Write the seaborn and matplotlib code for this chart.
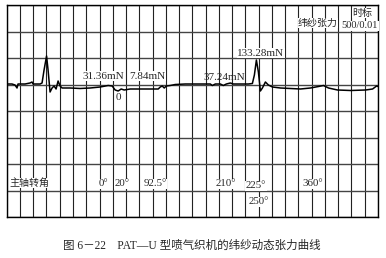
import numpy as np
import pandas as pd
import matplotlib
matplotlib.use("Agg")
import matplotlib.pyplot as plt
import seaborn as sns

# trace: time in chart divisions (0..28), tension in chart divisions (0..8)
trace_px_x = [7, 12, 15, 17, 18, 25, 30, 32, 33, 40, 42, 44, 46.5, 48, 50, 52, 54, 56, 58, 60,
              62, 70, 80, 90, 100, 108, 112, 115, 118, 121, 124, 130, 140, 150, 158, 160, 162,
              164, 166, 170, 175, 185, 200, 210, 212, 215, 220, 223, 226, 230, 233, 240, 248,
              252, 254, 256, 258, 260, 262, 265, 268, 272, 280, 290, 300, 310, 318, 323, 328,
              337, 350, 365, 372, 376, 379]
trace_px_y = [84, 84, 85, 88, 84, 84, 83, 82, 84, 84, 83, 70, 56, 70, 92, 88, 86, 89, 81, 86,
              88, 88, 88.5, 88, 87, 85.5, 86, 90, 91, 89, 90, 89, 89, 89, 89, 87, 86,
              88, 86, 85.5, 84.5, 84, 84, 84, 85.5, 84, 84, 85.5, 84, 83, 84, 84, 84,
              83.5, 75, 60, 72, 91, 88, 82, 85, 87, 88, 88.5, 89, 88, 86.5, 85.5, 88,
              90, 90.5, 90, 89, 86, 87]

X0, DX = 6.7, 13.24
Y0, DY = 217.0, 26.5
time_div = [(x - X0) / DX for x in trace_px_x]
tension_div = [(Y0 - y) / DY for y in trace_px_y]

tension_labels = ["31.36mN", "7.84mN", "0", "37.24mN", "133.28mN"]
angle_labels = ["0°", "20°", "92.5°", "210°", "225°", "250°", "360°"]

W, H = 386, 258
fig = plt.figure(figsize=(W / 100, H / 100), dpi=100)
sns.set_style("white")
plt.rcParams['font.family'] = ['Liberation Serif', 'Noto Sans CJK SC']

ax = fig.add_axes([X0 / W, 1 - Y0 / H, (378 - X0) / W, (Y0 - 5) / H])
df = pd.DataFrame({"t": time_div, "f": tension_div})
sns.lineplot(data=df, x="t", y="f", ax=ax, color="black", lw=1.1, sort=False)
ax.set_xlim(0, 28)
ax.set_ylim(0, 8)
ax.set_xticks(np.arange(0, 29, 1))
ax.set_yticks(np.arange(0, 9, 1))
ax.xaxis.grid(True, color="#222222", lw=0.8)
ax.yaxis.grid(True, color="#444444", lw=1.0)
ax.tick_params(length=0, labelbottom=False, labelleft=False)
ax.set_xlabel("")
ax.set_ylabel("")
for s in ax.spines.values():
    s.set_color("black")
    s.set_linewidth(1.0)

def ftext(px, py, s, size=8, **kw):
    fig.text(px / W, 1 - py / H, s, ha="center", va="center", fontsize=size,
             family=['Liberation Serif', 'Noto Sans CJK SC'], **kw)

# tension annotations
ftext(103, 76, tension_labels[0], bbox=dict(fc="white", ec="none", pad=0.3))
ftext(147, 76, tension_labels[1], bbox=dict(fc="white", ec="none", pad=0.3))
ftext(118, 98, tension_labels[2], bbox=dict(fc="white", ec="none", pad=0.2))
ftext(224, 77, tension_labels[3])
ftext(261, 53, tension_labels[4], bbox=dict(fc="white", ec="none", pad=0.3))

# legend/scale box
ftext(318, 23, "纬纱张力", size=7.2, bbox=dict(fc="white", ec="none", pad=0.3))
ftext(362, 13, "时标", size=7.2, bbox=dict(fc="white", ec="none", pad=0.3))
ftext(360, 26, "500/0.01", size=7.5, bbox=dict(fc="white", ec="none", pad=0.3))

# angle row
ftext(29, 183, "主轴转角", size=7.2, bbox=dict(fc="white", ec="none", pad=0.3))
ang_pos = [(103, 184), (122, 184), (155, 184), (226, 184), (256, 186), (259, 202), (313, 184)]
for (px, py), s in zip(ang_pos, angle_labels):
    ftext(px, py, s, size=7.8, bbox=dict(fc="white", ec="none", pad=0.3))

# caption
ftext(192, 246, "图 6－22    PAT—U 型喷气织机的纬纱动态张力曲线", size=8.3)

fig.savefig("out.png", dpi=100)
